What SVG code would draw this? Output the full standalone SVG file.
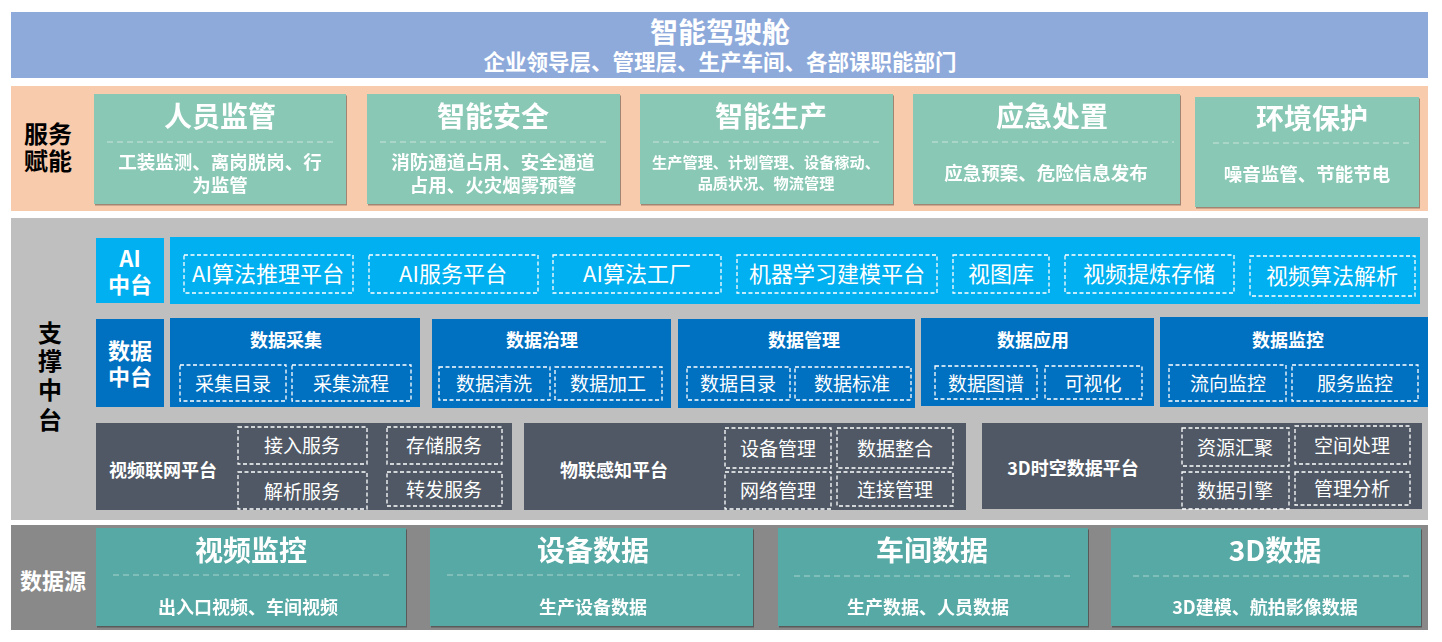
<svg xmlns="http://www.w3.org/2000/svg" width="1442" height="642" viewBox="0 0 1442 642">
<defs>
<filter id="sh" x="-10%" y="-30%" width="120%" height="160%"><feDropShadow dx="1" dy="1.5" stdDeviation="0.6" flood-color="#000" flood-opacity="0.35"/></filter>
<style>
text{font-family:"Noto Sans CJK SC","Liberation Sans",sans-serif;text-anchor:middle;dominant-baseline:central;fill:#fff}
.b{font-weight:700}
.dk{fill:#000}
.ds{fill:none;stroke:#fff;stroke-width:1.3;stroke-dasharray:4 2.5}
.sl{stroke:#c9e4da;stroke-width:1.2;stroke-dasharray:6 4;fill:none}
.sl2{stroke:#a9d3cf;stroke-width:1.2;stroke-dasharray:6 4;fill:none}
.svc{fill:#88c8b4}
.ai{fill:#00b0f0}
.dt{fill:#0070c0}
.pf{fill:#4f5864}
.src{fill:#56a9a4}
.t18{font-size:18px}
.t19{font-size:19px}
.t22{font-size:22px}
.t28{font-size:28px}
</style>
</defs>
<rect width="1442" height="642" fill="#fff"/>

<g id="top">
<rect x="11" y="12" width="1417" height="66" fill="#8eaadb"/>
<text x="720" y="31" class="b" font-size="28">智能驾驶舱</text>
<text x="720" y="60.5" class="b" font-size="21.5">企业领导层、管理层、生产车间、各部课职能部门</text>
</g>

<g id="service">
<rect x="11" y="86" width="1417" height="125" fill="#f8cbad"/>
<text x="48" y="132" class="b dk" font-size="24">服务</text>
<text x="48" y="159" class="b dk" font-size="24">赋能</text>
</g>
<g id="svc1" filter="url(#sh)">
<rect x="94" y="94" width="252" height="110" class="svc"/>
<line x1="107" y1="142" x2="336" y2="142" class="sl"/>
<text x="220" y="115" class="b t28">人员监管</text>
<text x="220" y="161" class="b" font-size="18.5">工装监测、离岗脱岗、行</text>
<text x="220" y="184" class="b" font-size="18.5">为监管</text>
</g>
<g id="svc2" filter="url(#sh)">
<rect x="367" y="94" width="253" height="110" class="svc"/>
<line x1="380" y1="142" x2="610" y2="142" class="sl"/>
<text x="493" y="115" class="b t28">智能安全</text>
<text x="493" y="161" class="b" font-size="18.5">消防通道占用、安全通道</text>
<text x="493" y="184" class="b" font-size="18.5">占用、火灾烟雾预警</text>
</g>
<g id="svc3" filter="url(#sh)">
<rect x="640" y="94" width="253" height="110" class="svc"/>
<line x1="653" y1="142" x2="883" y2="142" class="sl"/>
<text x="771" y="115" class="b t28">智能生产</text>
<text x="766" y="161" class="b" font-size="15.2">生产管理、计划管理、设备稼动、</text>
<text x="766" y="182" class="b" font-size="15.2">品质状况、物流管理</text>
</g>
<g id="svc4" filter="url(#sh)">
<rect x="913" y="94" width="267" height="110" class="svc"/>
<line x1="932" y1="142" x2="1174" y2="142" class="sl"/>
<text x="1052" y="115" class="b t28">应急处置</text>
<text x="1046" y="172" class="b" font-size="18.5">应急预案、危险信息发布</text>
</g>
<g id="svc5" filter="url(#sh)">
<rect x="1195" y="97" width="224" height="110" class="svc"/>
<line x1="1213" y1="143" x2="1410" y2="143" class="sl"/>
<text x="1312" y="117" class="b t28">环境保护</text>
<text x="1307" y="173" class="b" font-size="18.5">噪音监管、节能节电</text>
</g>

<g id="support">
<rect x="11" y="218" width="1417" height="302" fill="#bfbfbf"/>
<text x="50" y="331" class="b dk" font-size="24">支</text>
<text x="50" y="359" class="b dk" font-size="24">撑</text>
<text x="50" y="388" class="b dk" font-size="24">中</text>
<text x="50" y="418" class="b dk" font-size="24">台</text>
</g>

<g id="ai-label">
<rect x="96" y="238" width="68" height="65" class="ai"/>
<text x="130" y="257" class="t22 b">AI</text>
<text x="130" y="283" class="t22 b">中台</text>
</g>
<g id="ai-bar">
<rect x="170" y="237" width="1250" height="67" class="ai"/>
<rect x="184" y="255" width="169" height="38" class="ds"/>
<text x="268" y="272" class="t22">AI算法推理平台</text>
<rect x="369" y="255" width="169" height="38" class="ds"/>
<text x="453" y="272" class="t22">AI服务平台</text>
<rect x="553" y="255" width="168" height="38" class="ds"/>
<text x="637" y="272" class="t22">AI算法工厂</text>
<rect x="737" y="255" width="200" height="38" class="ds"/>
<text x="837" y="272" class="t22">机器学习建模平台</text>
<rect x="953" y="255" width="96" height="38" class="ds"/>
<text x="1001" y="272" class="t22">视图库</text>
<rect x="1065" y="255" width="169" height="38" class="ds"/>
<text x="1149" y="272" class="t22">视频提炼存储</text>
<rect x="1250" y="256" width="165" height="40" class="ds"/>
<text x="1332" y="274" class="t22">视频算法解析</text>
</g>

<g id="data-label">
<rect x="96" y="319" width="68" height="88" class="dt"/>
<text x="130" y="349" class="t22 b">数据</text>
<text x="130" y="375" class="t22 b">中台</text>
</g>
<g id="data-collect">
<rect x="170" y="318" width="250" height="89" class="dt"/>
<text x="286" y="339" class="t18 b">数据采集</text>
<rect x="180" y="365" width="106" height="36" class="ds"/>
<text x="233" y="382" class="t19">采集目录</text>
<rect x="292" y="365" width="119" height="36" class="ds"/>
<text x="351" y="382" class="t19">采集流程</text>
</g>
<g id="data-govern">
<rect x="432" y="319" width="239" height="89" class="dt"/>
<text x="542" y="339" class="t18 b">数据治理</text>
<rect x="439" y="367" width="111" height="33" class="ds"/>
<text x="494" y="382" class="t19">数据清洗</text>
<rect x="555" y="367" width="107" height="33" class="ds"/>
<text x="608" y="382" class="t19">数据加工</text>
</g>
<g id="data-manage">
<rect x="678" y="319" width="237" height="89" class="dt"/>
<text x="804" y="339" class="t18 b">数据管理</text>
<rect x="687" y="367" width="103" height="33" class="ds"/>
<text x="738" y="382" class="t19">数据目录</text>
<rect x="795" y="367" width="116" height="33" class="ds"/>
<text x="852" y="382" class="t19">数据标准</text>
</g>
<g id="data-app">
<rect x="921" y="318" width="233" height="88" class="dt"/>
<text x="1033" y="339" class="t18 b">数据应用</text>
<rect x="935" y="366" width="102" height="33" class="ds"/>
<text x="986" y="382" class="t19">数据图谱</text>
<rect x="1045" y="366" width="97" height="33" class="ds"/>
<text x="1093" y="382" class="t19">可视化</text>
</g>
<g id="data-monitor">
<rect x="1160" y="317" width="268" height="90" class="dt"/>
<text x="1288" y="339" class="t18 b">数据监控</text>
<rect x="1169" y="365" width="117" height="36" class="ds"/>
<text x="1228" y="382" class="t19">流向监控</text>
<rect x="1292" y="365" width="126" height="36" class="ds"/>
<text x="1355" y="382" class="t19">服务监控</text>
</g>

<g id="video-platform">
<rect x="96" y="423" width="416" height="87" class="pf"/>
<text x="163" y="469" class="t18 b">视频联网平台</text>
<rect x="238" y="427" width="129" height="37" class="ds"/>
<text x="302" y="444" class="t19">接入服务</text>
<rect x="387" y="427" width="115" height="37" class="ds"/>
<text x="444" y="444" class="t19">存储服务</text>
<rect x="238" y="472" width="129" height="37" class="ds"/>
<text x="302" y="490" class="t19">解析服务</text>
<rect x="387" y="472" width="115" height="34" class="ds"/>
<text x="444" y="488" class="t19">转发服务</text>
</g>
<g id="iot-platform">
<rect x="524" y="423" width="442" height="87" class="pf"/>
<text x="614" y="469" class="t18 b">物联感知平台</text>
<rect x="725" y="428" width="106" height="40" class="ds"/>
<text x="778" y="447" class="t19">设备管理</text>
<rect x="837" y="428" width="116" height="40" class="ds"/>
<text x="895" y="447" class="t19">数据整合</text>
<rect x="725" y="472" width="106" height="37" class="ds"/>
<text x="778" y="489" class="t19">网络管理</text>
<rect x="837" y="472" width="116" height="34" class="ds"/>
<text x="895" y="488" class="t19">连接管理</text>
</g>
<g id="3d-platform">
<rect x="982" y="423" width="440" height="86" class="pf"/>
<text x="1073" y="467" class="t18 b">3D时空数据平台</text>
<rect x="1182" y="428" width="107" height="38" class="ds"/>
<text x="1235" y="446" class="t19">资源汇聚</text>
<rect x="1295" y="426" width="115" height="38" class="ds"/>
<text x="1352" y="444" class="t19">空间处理</text>
<rect x="1182" y="472" width="107" height="37" class="ds"/>
<text x="1235" y="489" class="t19">数据引擎</text>
<rect x="1295" y="472" width="115" height="33" class="ds"/>
<text x="1352" y="487" class="t19">管理分析</text>
</g>

<g id="source">
<rect x="11" y="525" width="1417" height="105" fill="#898989"/>
<text x="53" y="579" class="b" font-size="22">数据源</text>
</g>
<g id="src1" filter="url(#sh)">
<rect x="96" y="528" width="310" height="98" class="src"/>
<line x1="113" y1="575" x2="390" y2="575" class="sl2"/>
<text x="251" y="549" class="b t28">视频监控</text>
<text x="248" y="606" class="b t18">出入口视频、车间视频</text>
</g>
<g id="src2" filter="url(#sh)">
<rect x="430" y="528" width="323" height="98" class="src"/>
<line x1="447" y1="575" x2="740" y2="575" class="sl2"/>
<text x="593" y="549" class="b t28">设备数据</text>
<text x="593" y="606" class="b t18">生产设备数据</text>
</g>
<g id="src3" filter="url(#sh)">
<rect x="778" y="528" width="310" height="98" class="src"/>
<line x1="794" y1="576" x2="1071" y2="576" class="sl2"/>
<text x="932" y="549" class="b t28">车间数据</text>
<text x="928" y="606" class="b t18">生产数据、人员数据</text>
</g>
<g id="src4" filter="url(#sh)">
<rect x="1111" y="528" width="310" height="98" class="src"/>
<line x1="1133" y1="576" x2="1411" y2="576" class="sl2"/>
<text x="1275" y="549" class="b t28">3D数据</text>
<text x="1265" y="606" class="b t18">3D建模、航拍影像数据</text>
</g>
</svg>
